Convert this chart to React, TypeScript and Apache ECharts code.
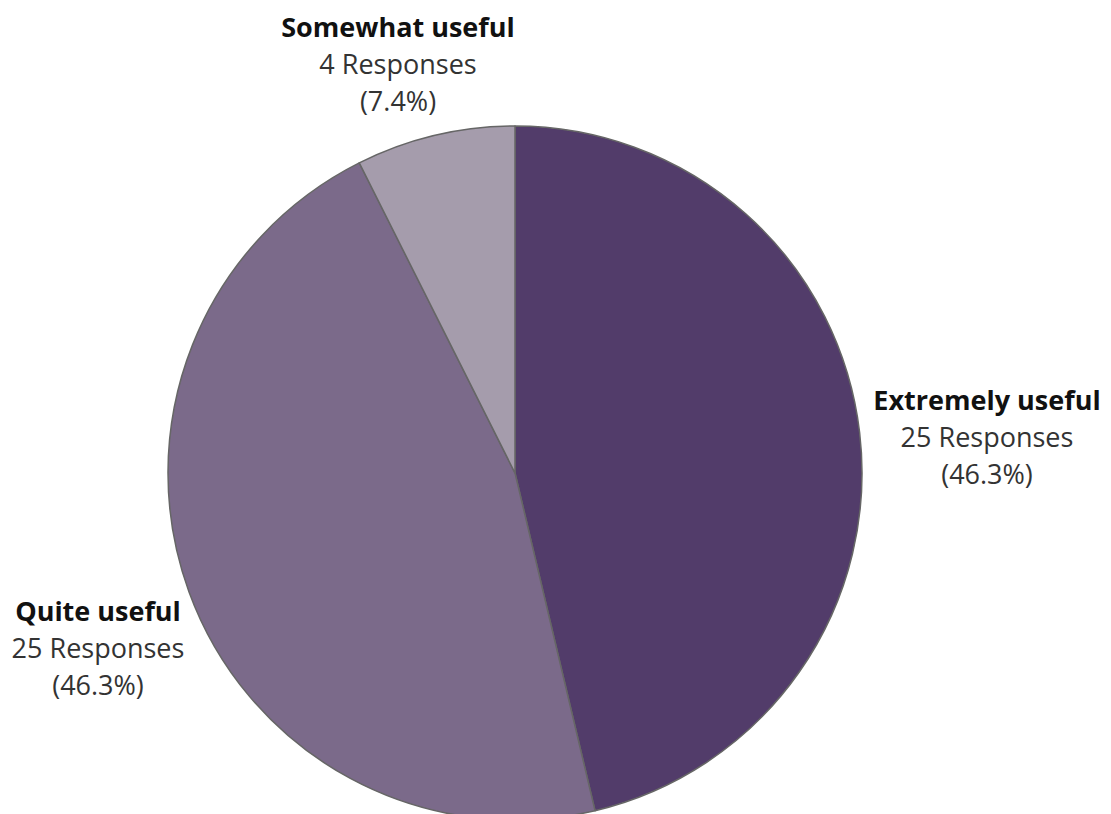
import React, { useEffect, useRef } from "react";
import * as echarts from "echarts";

const categories = ["Extremely useful", "Quite useful", "Somewhat useful"];
const responses = [25, 25, 4];
const colors = ["#523c6a", "#7b6a8a", "#a59cac"];
// label block centres (layout only)
const labelCenters: [number, number][] = [
  [987, 436],
  [98, 647],
  [398, 63],
];

export default function App() {
  const ref = useRef<HTMLDivElement>(null);
  useEffect(() => {
    if (!ref.current) return;
    const chart = echarts.init(ref.current, null, { renderer: "svg" });
    const total = responses.reduce((a, b) => a + b, 0);
    chart.setOption({
      animation: false,
      backgroundColor: "#ffffff",
      series: [
        {
          type: "pie",
          center: [515, 473],
          radius: [0, 347],
          startAngle: 90,
          clockwise: true,
          avoidLabelOverlap: false,
          itemStyle: { borderColor: "#666666", borderWidth: 1.5 },
          data: categories.map((c, i) => ({
            name: c,
            value: responses[i],
            itemStyle: { color: colors[i] },
          })),
          label: {
            show: true,
            position: "outside",
            fontFamily: "Open Sans",
            formatter: (p: any) =>
              `{b|${p.name}}\n{n|${p.value} Responses}\n{n|(${((p.value / total) * 100).toFixed(1)}%)}`,
            rich: {
              b: { fontFamily: "Open Sans", fontWeight: "bold", fontSize: 27, color: "#111111", lineHeight: 37, align: "center" },
              n: { fontFamily: "Open Sans", fontSize: 27, color: "#333333", lineHeight: 37, align: "center" },
            },
          },
          labelLine: { show: false, length: 12, length2: 0 },
          labelLayout: (params: any) => {
            const c = labelCenters[params.dataIndex];
            return { x: c[0], y: c[1], align: "center", verticalAlign: "middle" };
          },
          emphasis: { disabled: true },
        },
      ],
    });
    return () => chart.dispose();
  }, []);
  return (
    <div
      ref={ref}
      style={{ position: "fixed", left: 0, top: 0, width: 1111, height: 814 }}
    />
  );
}
